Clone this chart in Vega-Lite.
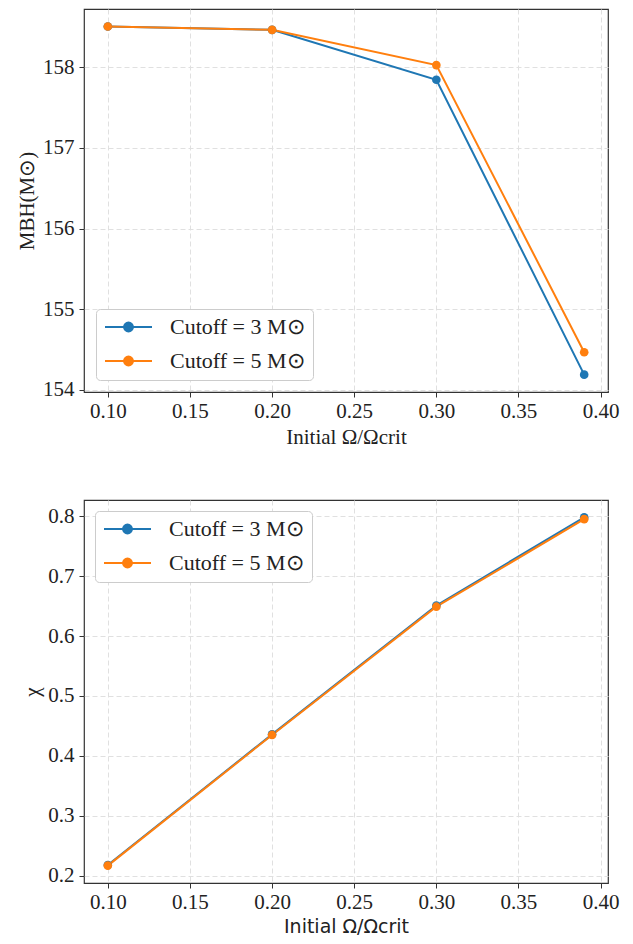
{
  "$schema": "https://vega.github.io/schema/vega-lite/v6.json",
  "padding": {"left": 15, "top": 8, "right": 0, "bottom": 0},
  "background": "white",
  "datasets": {
    "d": [
      {"omega": 0.10, "cutoff": "Cutoff = 3 M⊙", "mbh": 158.503, "chi": 0.218},
      {"omega": 0.20, "cutoff": "Cutoff = 3 M⊙", "mbh": 158.462, "chi": 0.436},
      {"omega": 0.30, "cutoff": "Cutoff = 3 M⊙", "mbh": 157.843, "chi": 0.651},
      {"omega": 0.39, "cutoff": "Cutoff = 3 M⊙", "mbh": 154.19, "chi": 0.798},
      {"omega": 0.10, "cutoff": "Cutoff = 5 M⊙", "mbh": 158.503, "chi": 0.217},
      {"omega": 0.20, "cutoff": "Cutoff = 5 M⊙", "mbh": 158.462, "chi": 0.435},
      {"omega": 0.30, "cutoff": "Cutoff = 5 M⊙", "mbh": 158.025, "chi": 0.649},
      {"omega": 0.39, "cutoff": "Cutoff = 5 M⊙", "mbh": 154.467, "chi": 0.795}
    ]
  },
  "data": {"name": "d"},
  "spacing": 51,
  "columns": 1,
  "resolve": {"legend": {"color": "independent"}},
  "concat": [
    {
      "width": 524,
      "height": 383,
      "encoding": {
        "x": {"field": "omega", "type": "quantitative",
          "scale": {"domain": [0.0855, 0.4045], "nice": false, "zero": false},
          "axis": {"values": [0.1, 0.15, 0.2, 0.25, 0.3, 0.35, 0.4], "format": ".2f", "title": "Initial Ω/Ωcrit"}},
        "y": {"field": "mbh", "type": "quantitative",
          "scale": {"domain": [153.975, 158.72], "nice": false, "zero": false},
          "axis": {"values": [154, 155, 156, 157, 158], "format": "d", "title": "MBH(M⊙)", "labelPadding": 5, "titlePadding": 5}},
        "color": {"field": "cutoff", "type": "nominal",
          "scale": {"domain": ["Cutoff = 3 M⊙", "Cutoff = 5 M⊙"], "range": ["#1f77b4", "#ff7f0e"]},
          "legend": {"orient": "bottom-left", "offset": 12,
            "encode": {"symbols": {"update": {"fill": {"scale": "color", "field": "value"}, "stroke": {"scale": "color", "field": "value"}}}}}}
      },
      "layer": [
        {"mark": {"type": "line", "strokeWidth": 2}, "encoding": {}},
        {"mark": {"type": "point", "filled": true, "size": 75, "opacity": 1}, "encoding": {}}
      ]
    },
    {
      "width": 524,
      "height": 383,
      "encoding": {
        "x": {"field": "omega", "type": "quantitative",
          "scale": {"domain": [0.0855, 0.4045], "nice": false, "zero": false},
          "axis": {"values": [0.1, 0.15, 0.2, 0.25, 0.3, 0.35, 0.4], "format": ".2f", "title": "Initial Ω/Ωcrit", "titleFont": "DejaVu Sans", "titleFontSize": 19}},
        "y": {"field": "chi", "type": "quantitative",
          "scale": {"domain": [0.188, 0.827], "nice": false, "zero": false},
          "axis": {"values": [0.2, 0.3, 0.4, 0.5, 0.6, 0.7, 0.8], "format": ".1f", "title": "χ", "labelPadding": 5, "titlePadding": 5}},
        "color": {"field": "cutoff", "type": "nominal",
          "scale": {"domain": ["Cutoff = 3 M⊙", "Cutoff = 5 M⊙"], "range": ["#1f77b4", "#ff7f0e"]},
          "legend": {"orient": "top-left", "offset": 11,
            "encode": {"symbols": {"update": {"fill": {"scale": "color", "field": "value"}, "stroke": {"scale": "color", "field": "value"}}}}}}
      },
      "layer": [
        {"mark": {"type": "line", "strokeWidth": 2}, "encoding": {}},
        {"mark": {"type": "point", "filled": true, "size": 75, "opacity": 1}, "encoding": {}}
      ]
    }
  ],
  "config": {
    "view": {"stroke": "#333333", "strokeWidth": 1.2},
    "axis": {
      "labelFont": "Liberation Serif", "labelFontSize": 21, "labelColor": "#222222",
      "titleFont": "Liberation Serif", "titleFontSize": 21, "titleFontWeight": "normal", "titleColor": "#222222",
      "tickColor": "#333333", "tickSize": 5, "tickWidth": 1,
      "domain": false,
      "gridColor": "#e0e0e0", "gridDash": [5, 3], "gridWidth": 1,
      "labelPadding": 3, "titlePadding": 5
    },
    "legend": {
      "title": null,
      "labelFont": "Liberation Serif", "labelFontSize": 22, "labelColor": "#222222",
      "symbolType": "M-1,0L1,0M0.19,0A0.19,0.19,0,1,1,-0.19,0A0.19,0.19,0,1,1,0.19,0Z",
      "symbolSize": 2209, "symbolStrokeWidth": 2,
      "clipHeight": 20, "rowPadding": 12, "padding": 8,
      "labelOffset": 17,
      "strokeColor": "#cccccc", "fillColor": "white", "cornerRadius": 4
    }
  }
}
